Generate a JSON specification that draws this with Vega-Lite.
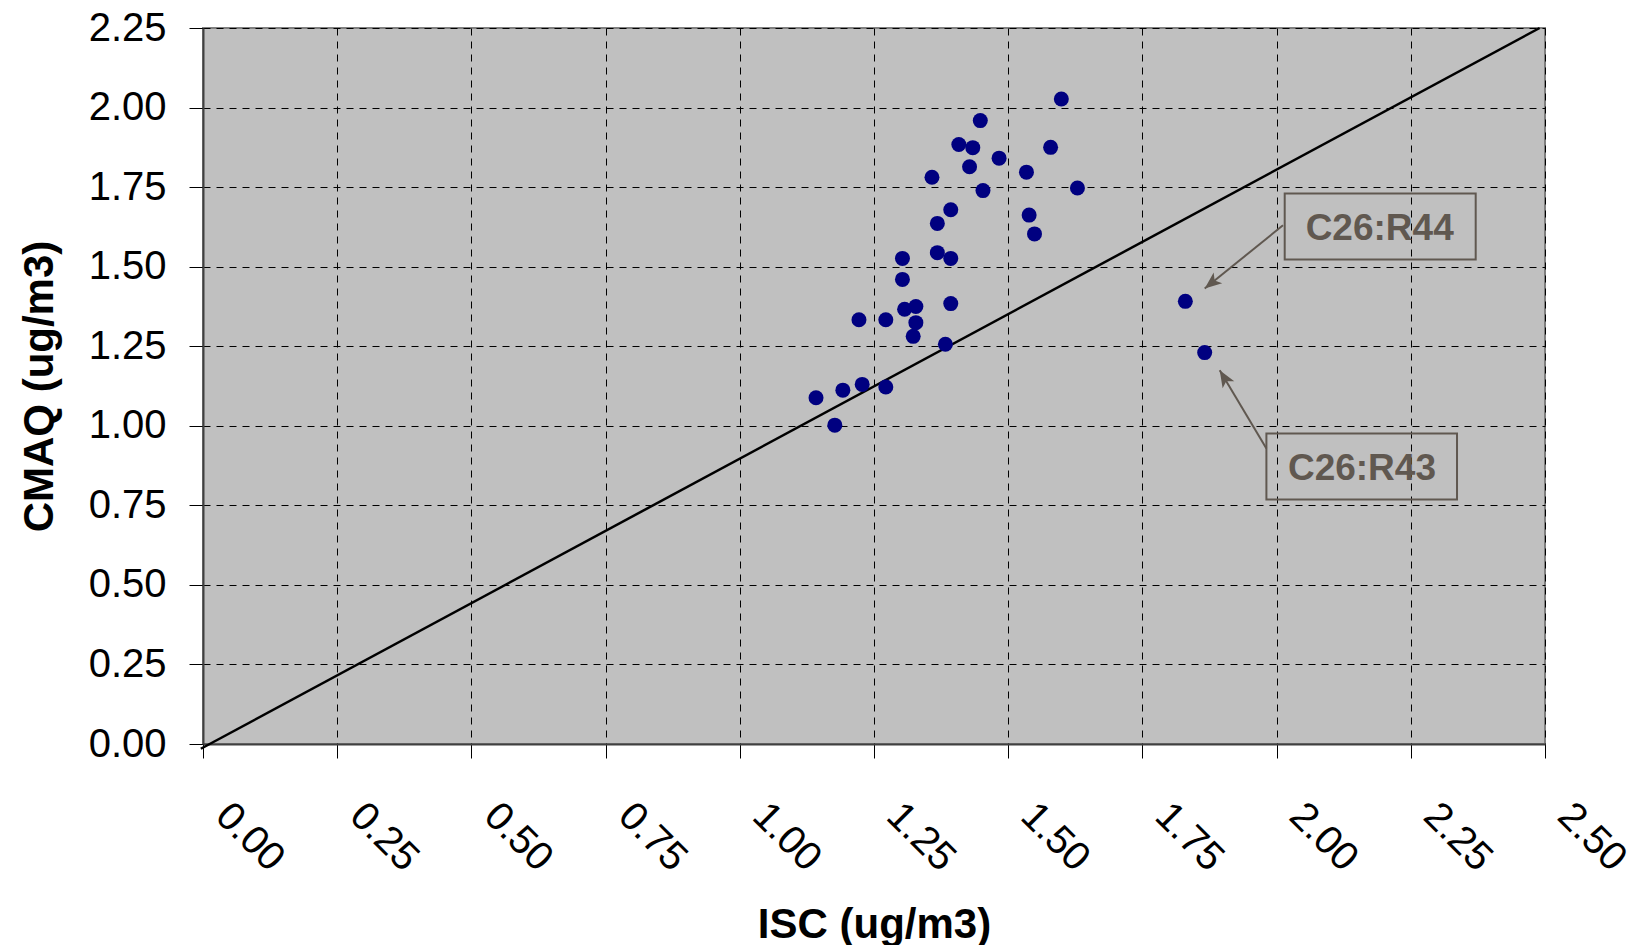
{
  "$schema": "https://vega.github.io/schema/vega-lite/v6.json",
  "width": 1342,
  "height": 716,
  "autosize": {"type": "none"},
  "padding": {"left": 203, "top": 28, "right": 93, "bottom": 201},
  "background": "white",
  "config": {
    "view": {"fill": "#C0C0C0", "stroke": "#808080", "strokeWidth": 2},
    "font": "Liberation Sans"
  },
  "datasets": {
    "diag": [{"x": -0.004, "y": -0.015}, {"x": 2.49, "y": 2.25}],
    "obs": [
      {"x": 1.142, "y": 1.088}, {"x": 1.177, "y": 1.002}, {"x": 1.192, "y": 1.112},
      {"x": 1.228, "y": 1.130}, {"x": 1.272, "y": 1.122}, {"x": 1.222, "y": 1.333},
      {"x": 1.272, "y": 1.333}, {"x": 1.303, "y": 1.526}, {"x": 1.303, "y": 1.460},
      {"x": 1.307, "y": 1.366}, {"x": 1.328, "y": 1.375}, {"x": 1.328, "y": 1.324},
      {"x": 1.323, "y": 1.281}, {"x": 1.383, "y": 1.256}, {"x": 1.393, "y": 1.384},
      {"x": 1.368, "y": 1.544}, {"x": 1.393, "y": 1.526}, {"x": 1.368, "y": 1.636},
      {"x": 1.393, "y": 1.679}, {"x": 1.358, "y": 1.781}, {"x": 1.408, "y": 1.884},
      {"x": 1.434, "y": 1.874}, {"x": 1.428, "y": 1.814}, {"x": 1.448, "y": 1.959},
      {"x": 1.453, "y": 1.739}, {"x": 1.483, "y": 1.841}, {"x": 1.534, "y": 1.797},
      {"x": 1.539, "y": 1.662}, {"x": 1.549, "y": 1.603}, {"x": 1.579, "y": 1.875},
      {"x": 1.599, "y": 2.027}, {"x": 1.629, "y": 1.747}, {"x": 1.830, "y": 1.391},
      {"x": 1.866, "y": 1.230}
    ],
    "boxes": [
      {"label": "C26:R44", "x": 2.0151, "x2": 2.3709, "y": 1.7296, "y2": 1.5223},
      {"label": "C26:R43", "x": 1.981, "x2": 2.3361, "y": 0.9758, "y2": 0.7685}
    ],
    "labels": [
      {"label": "C26:R44", "x": 2.192, "y": 1.583},
      {"label": "C26:R43", "x": 2.159, "y": 0.829}
    ],
    "arrows": [
      {"label": "C26:R44", "x": 2.0119, "y": 1.63, "x2": 1.8661, "y2": 1.4312},
      {"label": "C26:R43", "x": 1.981, "y": 0.9287, "x2": 1.894, "y2": 1.1746}
    ],
    "heads": [
      {"label": "C26:R44", "x": 1.8661, "y": 1.4312},
      {"label": "C26:R43", "x": 1.894, "y": 1.1746}
    ]
  },
  "encoding": {
    "x": {
      "field": "x", "type": "quantitative",
      "scale": {"domain": [0, 2.5], "nice": false, "zero": false},
      "axis": {
        "title": "ISC (ug/m3)",
        "values": [0, 0.25, 0.5, 0.75, 1, 1.25, 1.5, 1.75, 2, 2.25, 2.5],
        "format": ".2f",
        "labelAngle": 45, "labelAlign": "left", "labelBaseline": "top",
        "labelFontSize": 40, "labelColor": "black", "labelFont": "Liberation Sans",
        "labelOffset": 33, "labelPadding": 37,
        "labelOverlap": false, "labelFlush": false, "labelBound": false,
        "tickSize": 14, "tickColor": "black", "tickWidth": 1,
        "domainColor": "#404040", "domainWidth": 2,
        "grid": true, "gridColor": "black", "gridDash": [7, 6], "gridWidth": 1, "gridOpacity": 1,
        "titleFontSize": 42, "titleFontWeight": "bold", "titleColor": "black", "titleFont": "Liberation Sans",
        "titleX": 671, "titleY": 193, "titleAlign": "center", "titleBaseline": "alphabetic"
      }
    },
    "y": {
      "field": "y", "type": "quantitative",
      "scale": {"domain": [0, 2.25], "nice": false, "zero": false},
      "axis": {
        "title": "CMAQ (ug/m3)",
        "values": [0, 0.25, 0.5, 0.75, 1, 1.25, 1.5, 1.75, 2, 2.25],
        "format": ".2f",
        "labelFontSize": 40, "labelColor": "black", "labelFont": "Liberation Sans",
        "labelPadding": 23, "labelOverlap": false, "labelFlush": false,
        "tickSize": 14, "tickColor": "black", "tickWidth": 1,
        "domainColor": "#404040", "domainWidth": 2,
        "grid": true, "gridColor": "black", "gridDash": [7, 6], "gridWidth": 1, "gridOpacity": 1,
        "titleFontSize": 42, "titleFontWeight": "bold", "titleColor": "black", "titleFont": "Liberation Sans",
        "titleAngle": 270, "titleX": -151, "titleY": 358, "titleAlign": "center", "titleBaseline": "alphabetic"
      }
    }
  },
  "layer": [
    {
      "data": {"name": "diag"},
      "mark": {"type": "line", "color": "black", "strokeWidth": 2.5, "clip": false}
    },
    {
      "data": {"name": "obs"},
      "mark": {"type": "circle", "color": "#000080", "size": 225, "opacity": 1}
    },
    {
      "data": {"name": "boxes"},
      "mark": {"type": "rect", "fillOpacity": 0, "stroke": "#605850", "strokeWidth": 2},
      "encoding": {"x2": {"field": "x2"}, "y2": {"field": "y2"}}
    },
    {
      "data": {"name": "labels"},
      "mark": {"type": "text", "font": "Liberation Sans", "fontWeight": "bold", "fontSize": 37, "color": "#605850", "align": "center", "baseline": "alphabetic"},
      "encoding": {"text": {"field": "label"}}
    },
    {
      "data": {"name": "arrows"},
      "mark": {"type": "rule", "color": "#605850", "strokeWidth": 2},
      "encoding": {"x2": {"field": "x2"}, "y2": {"field": "y2"}}
    },
    {
      "data": {"name": "heads"},
      "transform": [{"filter": "datum.label === 'C26:R44'"}],
      "mark": {"type": "point", "shape": "M0,0L0.4,1L0,0.75L-0.4,1Z", "filled": true, "color": "#605850", "size": 1156, "angle": 231, "opacity": 1}
    },
    {
      "data": {"name": "heads"},
      "transform": [{"filter": "datum.label === 'C26:R43'"}],
      "mark": {"type": "point", "shape": "M0,0L0.4,1L0,0.75L-0.4,1Z", "filled": true, "color": "#605850", "size": 1156, "angle": 329, "opacity": 1}
    }
  ]
}
